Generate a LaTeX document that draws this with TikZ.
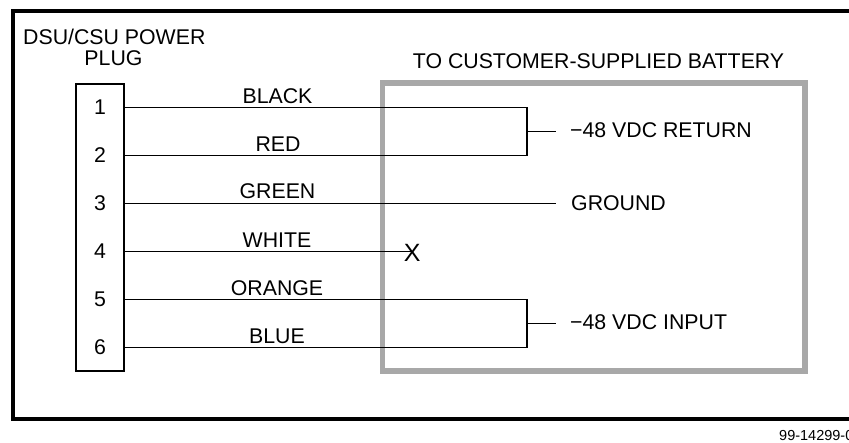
\documentclass[tikz,border=0pt]{standalone}
\usepackage{fontspec}
\usepackage{xcolor}
\setmainfont{Liberation Sans}
\definecolor{framegray}{rgb}{0.66,0.66,0.66}
\tikzset{
  wire/.style={draw=black, line width=1.3pt},
  txt/.style={inner sep=0pt, anchor=base, font=\fontsize{21.3}{24}\selectfont},
  txtleft/.style={txt, anchor=base west},
  colorlabel/.style={txt},
  pinlabel/.style={txt}
}

\begin{document}
\begin{tikzpicture}[x=1pt, y=-1pt]
        \useasboundingbox (0,0) rectangle (849,443);
        \clip (0,0) rectangle (849,443);

        % Outer frame, runs off the right edge
        \draw[line width=3.7pt] (12.8,11) rectangle (880,419);

        % Battery box
        \node[draw=framegray, line width=5.6pt, minimum width=422.5pt, minimum height=288pt, inner sep=0pt] (battery) at (593.75,227) {};
        \node[txtleft] (batterytitle) at (412.7,68.5) {TO CUSTOMER-SUPPLIED BATTERY};

        % Power plug
        \node[draw=black, line width=2.6pt, minimum width=48pt, minimum height=287pt, inner sep=0pt] (plug) at (100,227.5) {};
        \node[txtleft] (plugtitle) at (23,45) {DSU/CSU POWER};
        \node[txt] (plugsub) at (113.5,66) {PLUG};

        % Pin numbers
        \node[pinlabel] (pin1) at (100,115) {1};
        \node[pinlabel] (pin2) at (100,163) {2};
        \node[pinlabel] (pin3) at (100,211) {3};
        \node[pinlabel] (pin4) at (100,259) {4};
        \node[pinlabel] (pin5) at (100,307) {5};
        \node[pinlabel] (pin6) at (100,355) {6};

        % Wire ends
        \coordinate (a1) at (124,107.7);
        \coordinate (a2) at (124,155.5);
        \coordinate (a3) at (124,203.4);
        \coordinate (a4) at (124,251.6);
        \coordinate (a5) at (124,299.7);
        \coordinate (a6) at (124,347.7);
        \coordinate (b1) at (527,107.7);
        \coordinate (b2) at (527,155.5);
        \coordinate (b5) at (527,299.7);
        \coordinate (b6) at (527,347.7);
        \coordinate (m1) at (527,131.6);
        \coordinate (m5) at (527,323.7);
        \coordinate (c1) at (555.7,131.6);
        \coordinate (c3) at (555.7,203.4);
        \coordinate (c5) at (555.7,323.7);

        % Wires
        \draw[wire] (a1) -- (b1) -- (b2) -- (a2);
        \draw[wire] (a3) -- (c3);
        \draw[wire] (a5) -- (b5) -- (b6) -- (a6);
        \draw[wire, line width=1pt] (m1) -- (c1);
        \draw[wire, line width=1pt] (m5) -- (c5);

        % Open wire
        \node[inner sep=0pt, font=\fontsize{25}{28}\selectfont] (open) at (412.3,252.5) {X};
        \draw[wire] (a4) -- (a4 -| open.center);

        % Wire colours
        \node[colorlabel] (black) at (277.5,103.3) {BLACK};
        \node[colorlabel] (red) at (278,151.5) {RED};
        \node[colorlabel] (green) at (277.5,199) {GREEN};
        \node[colorlabel] (white) at (277,247.2) {WHITE};
        \node[colorlabel] (orange) at (277,295.2) {ORANGE};
        \node[colorlabel] (blue) at (277,343.5) {BLUE};

        % Battery terminals
        \node[txtleft] (ret) at (570,137.3) {−48 VDC RETURN};
        \node[txtleft] (ground) at (571,210.8) {GROUND};
        \node[txtleft] (input) at (570,330) {−48 VDC INPUT};

        % Figure number, cut off by the edge
        \node[inner sep=0pt, anchor=base west, font=\fontsize{14.5}{16}\selectfont] (fignum) at (779,441) {99-14299-0};
    \end{tikzpicture}
\end{document}
